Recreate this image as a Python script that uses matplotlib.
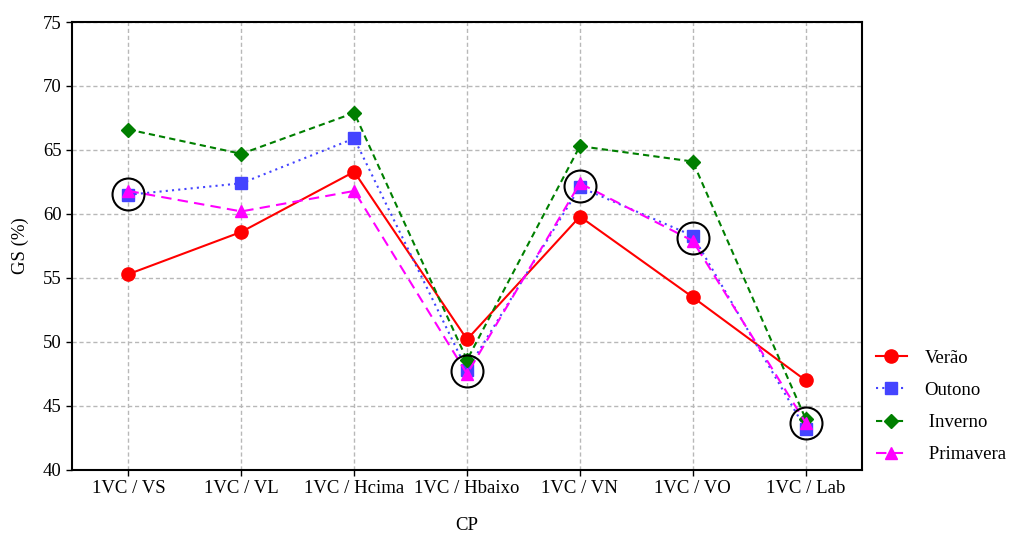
import matplotlib
matplotlib.use("Agg")
import matplotlib.pyplot as plt

plt.rcParams["font.family"] = ["Liberation Serif", "DejaVu Serif"]

categories = ["1VC / VS", "1VC / VL", "1VC / Hcima", "1VC / Hbaixo",
              "1VC / VN", "1VC / VO", "1VC / Lab"]
verao = [55.3, 58.6, 63.3, 50.2, 59.8, 53.5, 47.0]
outono = [61.5, 62.4, 65.9, 47.8, 62.1, 58.3, 43.2]
inverno = [66.6, 64.7, 67.9, 48.6, 65.3, 64.1, 44.0]
primavera = [61.8, 60.2, 61.8, 47.5, 62.4, 57.9, 43.7]

# highlighted points (category index, value)
circle_x = [0, 3, 4, 5, 6]
circle_y = [61.6, 47.7, 62.2, 58.1, 43.7]

fig = plt.figure(figsize=(10.13, 5.34), dpi=100)
ax = fig.add_axes([0.0711, 0.1199, 0.7799, 0.8389])

x = list(range(len(categories)))
ax.plot(x, verao, color="#ff0000", linestyle="-", linewidth=1.5,
        marker="o", markersize=9.5, label="Verão", zorder=3)
ax.plot(x, outono, color="#4444ff", linestyle=(0, (1, 2)), linewidth=1.5,
        marker="s", markersize=8.5, label="Outono", zorder=3)
ax.plot(x, inverno, color="#007f00", linestyle=(0, (3, 2)), linewidth=1.5,
        marker="D", markersize=7, label=" Inverno", zorder=3)
ax.plot(x, primavera, color="#ff00ff", linestyle=(0, (5, 3)), linewidth=1.5,
        marker="^", markersize=8.5, label=" Primavera", zorder=4)

ax.plot(circle_x, circle_y, linestyle="none", marker="o", markersize=23,
        markerfacecolor="none", markeredgecolor="black", markeredgewidth=1.5,
        zorder=5)

ax.set_xlim(-0.5, 6.5)
ax.set_ylim(40, 75)
ax.set_xticks(x)
ax.set_xticklabels(categories)
ax.set_yticks(range(40, 76, 5))
ax.tick_params(direction="out", length=4, labelsize=13.5, width=1)
ax.grid(True, color="#b8b8b8", linestyle=(0, (3, 2)), linewidth=1)
for s in ax.spines.values():
    s.set_linewidth(1.5)

ax.set_xlabel("CP", fontsize=13.5, labelpad=14)
ax.set_ylabel("GS (%)", fontsize=13.5, labelpad=10)

fig.legend(loc="center left", bbox_to_anchor=(0.857, 0.2388), frameon=False,
           fontsize=13.5, handlelength=1.65, handletextpad=0.95,
           labelspacing=0.8, borderaxespad=0)

fig.savefig("out.png", dpi=100)
